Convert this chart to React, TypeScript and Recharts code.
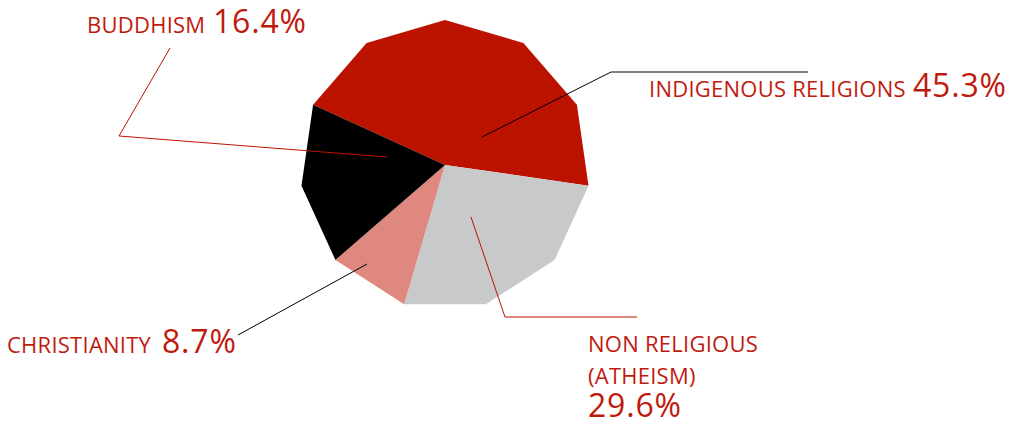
import React from 'react';
import { PieChart, Pie, Cell } from 'recharts';

const categories = ['INDIGENOUS RELIGIONS', 'NON RELIGIOUS (ATHEISM)', 'CHRISTIANITY', 'BUDDHISM'];
const nameLines = [['INDIGENOUS RELIGIONS'], ['NON RELIGIOUS', '(ATHEISM)'], ['CHRISTIANITY'], ['BUDDHISM']];
const shares = [45.3, 29.6, 8.7, 16.4];
const colors = ['#BC1200', '#C8C9CB', '#DF8880', '#000000'];

const data = categories.map((name, i) => ({ name, value: shares[i] }));

// label layout, offsets relative to pie centre
const labelLayout = [
  { line: [[37, -28], [166, -93], [363, -93]], lineColor: '#000000', names: [[204, -68]], pct: [468, -68] },
  { line: [[26, 52], [60, 152], [192, 152]], lineColor: '#BC1200', names: [[143, 187], [143, 219]], pct: [143, 252] },
  { line: [[-78, 99], [-207, 170]], lineColor: '#000000', names: [[-438, 188]], pct: [-283, 188] },
  { line: [[-58, -8], [-326, -29], [-275, -117]], lineColor: '#BC1200', names: [[-358, -132]], pct: [-232, -132] },
];

const SIDES = 11;
const STEP = 360 / SIDES;
const RAD = Math.PI / 180;
const START = 90 + 2 * STEP;
const TEXT_RED = '#BF1A0E';
const FONT = '"Open Sans", "Noto Sans", sans-serif';

function polar(cx: number, cy: number, r: number, deg: number) {
  return [cx + r * Math.cos(-deg * RAD), cy + r * Math.sin(-deg * RAD)];
}

function PolygonSector(props: any) {
  const { cx, cy, outerRadius, startAngle, endAngle, fill } = props;
  const k0 = Math.round((90 - startAngle) / STEP);
  const k1 = Math.round((90 - endAngle) / STEP);
  const pts: number[][] = [[cx, cy]];
  for (let k = k0; k <= k1; k++) pts.push(polar(cx, cy, outerRadius, 90 - k * STEP));
  const d = 'M' + pts.map((p) => p[0].toFixed(2) + ',' + p[1].toFixed(2)).join('L') + 'Z';
  return <path d={d} fill={fill} stroke="none" />;
}

function renderLabel(props: any) {
  const { cx, cy, index, value } = props;
  const lay = labelLayout[index];
  const pts = lay.line.map((p) => `${cx + p[0]},${cy + p[1]}`).join(' ');
  return (
    <g key={'lbl' + index}>
      <polyline points={pts} fill="none" stroke={lay.lineColor} strokeWidth={1} />
      {nameLines[index].map((t, j) => (
        <text
          key={j}
          x={cx + lay.names[j][0]}
          y={cy + lay.names[j][1]}
          fill={TEXT_RED}
          fontSize={22}
          letterSpacing={0.25}
          fontFamily={FONT}
        >
          {t}
        </text>
      ))}
      <text
        x={cx + lay.pct[0]}
        y={cy + lay.pct[1]}
        fill={TEXT_RED}
        fontSize={32}
        letterSpacing={0.8}
        fontFamily={FONT}
      >
        {Number(value).toFixed(1) + '%'}
      </text>
    </g>
  );
}

export default function App() {
  return (
    <div style={{ position: 'absolute', left: 0, top: 0, width: 1019, height: 421, background: '#fff' }}>
      <PieChart width={1019} height={421} margin={{ top: 0, right: 0, bottom: 0, left: 0 }}>
        <Pie
          data={data}
          dataKey="value"
          nameKey="name"
          cx={445}
          cy={165}
          outerRadius={145}
          startAngle={START}
          endAngle={START - 360}
          stroke="none"
          isAnimationActive={false}
          labelLine={false}
          label={renderLabel}
          shape={PolygonSector}
        >
          {data.map((d, i) => (
            <Cell key={d.name} fill={colors[i]} />
          ))}
        </Pie>
      </PieChart>
    </div>
  );
}
